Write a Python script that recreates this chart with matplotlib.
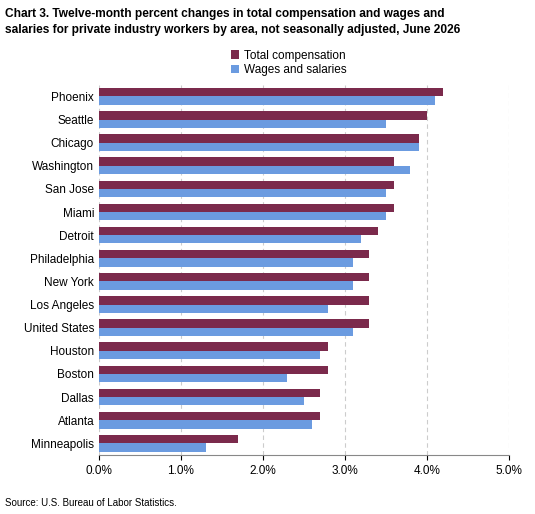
import matplotlib
matplotlib.use("Agg")
import matplotlib.pyplot as plt
import numpy as np
from matplotlib.ticker import FuncFormatter

plt.rcParams['font.family'] = ['Liberation Sans', 'DejaVu Sans']

areas = ["Phoenix","Seattle","Chicago","Washington","San Jose","Miami","Detroit","Philadelphia",
         "New York","Los Angeles","United States","Houston","Boston","Dallas","Atlanta","Minneapolis"]
total_comp = [4.2,4.0,3.9,3.6,3.6,3.6,3.4,3.3,3.3,3.3,3.3,2.8,2.8,2.7,2.7,1.7]
wages = [4.1,3.5,3.9,3.8,3.5,3.5,3.2,3.1,3.1,2.8,3.1,2.7,2.3,2.5,2.6,1.3]

c_tc = "#7b2a4c"
c_w = "#6b9be0"
fig = plt.figure(figsize=(5.35,5.14), dpi=100)
ax = fig.add_axes([0.185,0.115,0.766,0.72])
y = np.arange(len(areas))
h = 0.36
ax.barh(y - h/2, total_comp, height=h, color=c_tc, label="Total compensation", zorder=3)
ax.barh(y + h/2, wages, height=h, color=c_w, label="Wages and salaries", zorder=3)
ax.set_yticks(y)
ax.set_yticklabels(areas, fontsize=8.5)
ax.set_ylim(len(areas)-0.5, -0.5)
ax.set_xlim(0,5)
ax.set_xticks(np.arange(0,5.01,1))
ax.xaxis.set_major_formatter(FuncFormatter(lambda v,p: f"{v:.1f}%"))
ax.tick_params(axis='x', labelsize=8.5)
ax.tick_params(axis='y', length=0)
ax.grid(axis='x', linestyle=(0,(4,3)), color="#cccccc", zorder=0)
for s in ["top","right","left"]:
    ax.spines[s].set_visible(False)
ax.spines["bottom"].set_color("#888888")
fig.text(0.01,0.985,"Chart 3. Twelve-month percent changes in total compensation and wages and\nsalaries for private industry workers by area, not seasonally adjusted, June 2026",
         fontsize=8.6, fontweight="bold", va="top", ha="left", linespacing=1.45)
fig.legend(loc="upper center", bbox_to_anchor=(0.54,0.915), ncol=1, frameon=False, fontsize=8.5,
           handlelength=0.7, handleheight=0.7, labelspacing=0.2, borderpad=0, handletextpad=0.4)
fig.text(0.01,0.012,"Source: U.S. Bureau of Labor Statistics.", fontsize=7, ha="left", va="bottom")
fig.savefig("out.png", dpi=100)
